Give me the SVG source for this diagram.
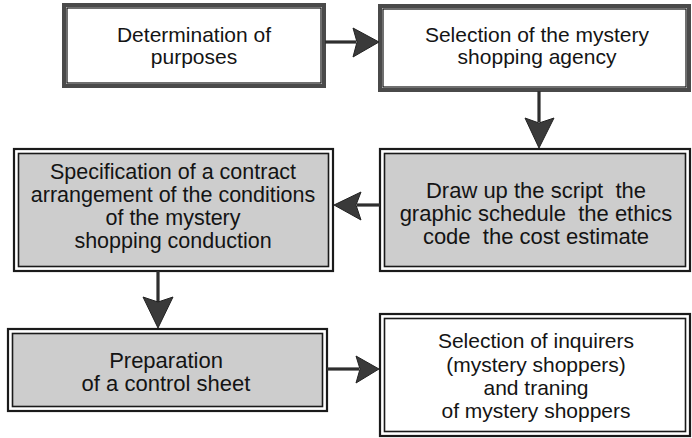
<svg xmlns="http://www.w3.org/2000/svg" width="692" height="438" viewBox="0 0 692 438">
  <style>
    .t { font-family: "Liberation Sans", Arial, sans-serif; font-size: 21px; fill: #141414; text-anchor: middle; white-space: pre; }
    .tg { font-size: 22px; }
    .tc { font-size: 21.5px; }
    .thick { fill: #ffffff; stroke: #4a4a4a; stroke-width: 4; }
    .thin { fill: none; stroke: #111; stroke-width: 1.2; }
    .outer { fill: #ffffff; stroke: #1a1a1a; stroke-width: 2.2; }
    .inner-g { fill: #cdcdcd; stroke: #1a1a1a; stroke-width: 1.6; }
    .inner-w { fill: #ffffff; stroke: #1a1a1a; stroke-width: 1.6; }
    .shaft { stroke: #2e2e2e; stroke-width: 3.2; fill: none; }
    .head { fill: #3a3a3a; stroke: #222; stroke-width: 1; stroke-linejoin: round; }
  </style>

  <g id="node-purposes">
    <rect class="thick" x="64" y="5" width="260" height="81"/>
    <rect class="thin" x="67" y="8" width="254" height="75"/>
    <text class="t" x="194" y="42">Determination of</text>
    <text class="t" x="194" y="64">purposes</text>
  </g>

  <g id="node-agency">
    <rect class="thick" x="380" y="6" width="309" height="84"/>
    <rect class="thin" x="383" y="9" width="303" height="78"/>
    <text class="t" x="537" y="42">Selection of the mystery</text>
    <text class="t" x="537" y="64">shopping agency</text>
  </g>

  <g id="node-contract">
    <rect class="outer" x="14" y="149" width="319" height="122"/>
    <rect class="inner-g" x="18.5" y="153.5" width="310" height="113"/>
    <text class="t tc" x="173" y="179">Specification of a contract</text>
    <text class="t tc" x="173" y="202">arrangement of the conditions</text>
    <text class="t tc" x="173" y="225">of the mystery</text>
    <text class="t tc" x="173" y="248">shopping conduction</text>
  </g>

  <g id="node-script">
    <rect class="outer" x="380" y="149" width="310" height="122"/>
    <rect class="inner-g" x="384.5" y="153.5" width="301" height="113"/>
    <text class="t tg" x="536" y="198">Draw up the script  the</text>
    <text class="t tg" x="536" y="221">graphic schedule  the ethics</text>
    <text class="t tg" x="536" y="244">code  the cost estimate</text>
  </g>

  <g id="node-control">
    <rect class="outer" x="8" y="329" width="319" height="82"/>
    <rect class="inner-g" x="12.5" y="333.5" width="310" height="73"/>
    <text class="t tg" x="166" y="368">Preparation</text>
    <text class="t tg" x="166" y="391">of a control sheet</text>
  </g>

  <g id="node-shoppers">
    <rect class="outer" x="380" y="314" width="310" height="122"/>
    <rect class="inner-w" x="384.5" y="318.5" width="301" height="113"/>
    <text class="t" x="536" y="348">Selection of inquirers</text>
    <text class="t" x="536" y="372">(mystery shoppers)</text>
    <text class="t" x="536" y="395">and traning</text>
    <text class="t" x="536" y="418">of mystery shoppers</text>
  </g>

  <g id="connectors">
    <line class="shaft" x1="325" y1="42" x2="356" y2="42"/>
    <polygon class="head" points="353,28 379,42 353,57 357,42"/>

    <line class="shaft" x1="539" y1="91" x2="539" y2="122"/>
    <polygon class="head" points="525,118 539,148 554,118 539,123"/>

    <line class="shaft" x1="380" y1="205" x2="357" y2="205"/>
    <polygon class="head" points="361,192 334,205 361,220 356,205"/>

    <line class="shaft" x1="158" y1="271" x2="158" y2="302"/>
    <polygon class="head" points="143,297 158,328 173,297 158,302"/>

    <line class="shaft" x1="327" y1="369" x2="359" y2="369"/>
    <polygon class="head" points="356,356 379,369 356,383 360,369"/>
  </g>
</svg>
